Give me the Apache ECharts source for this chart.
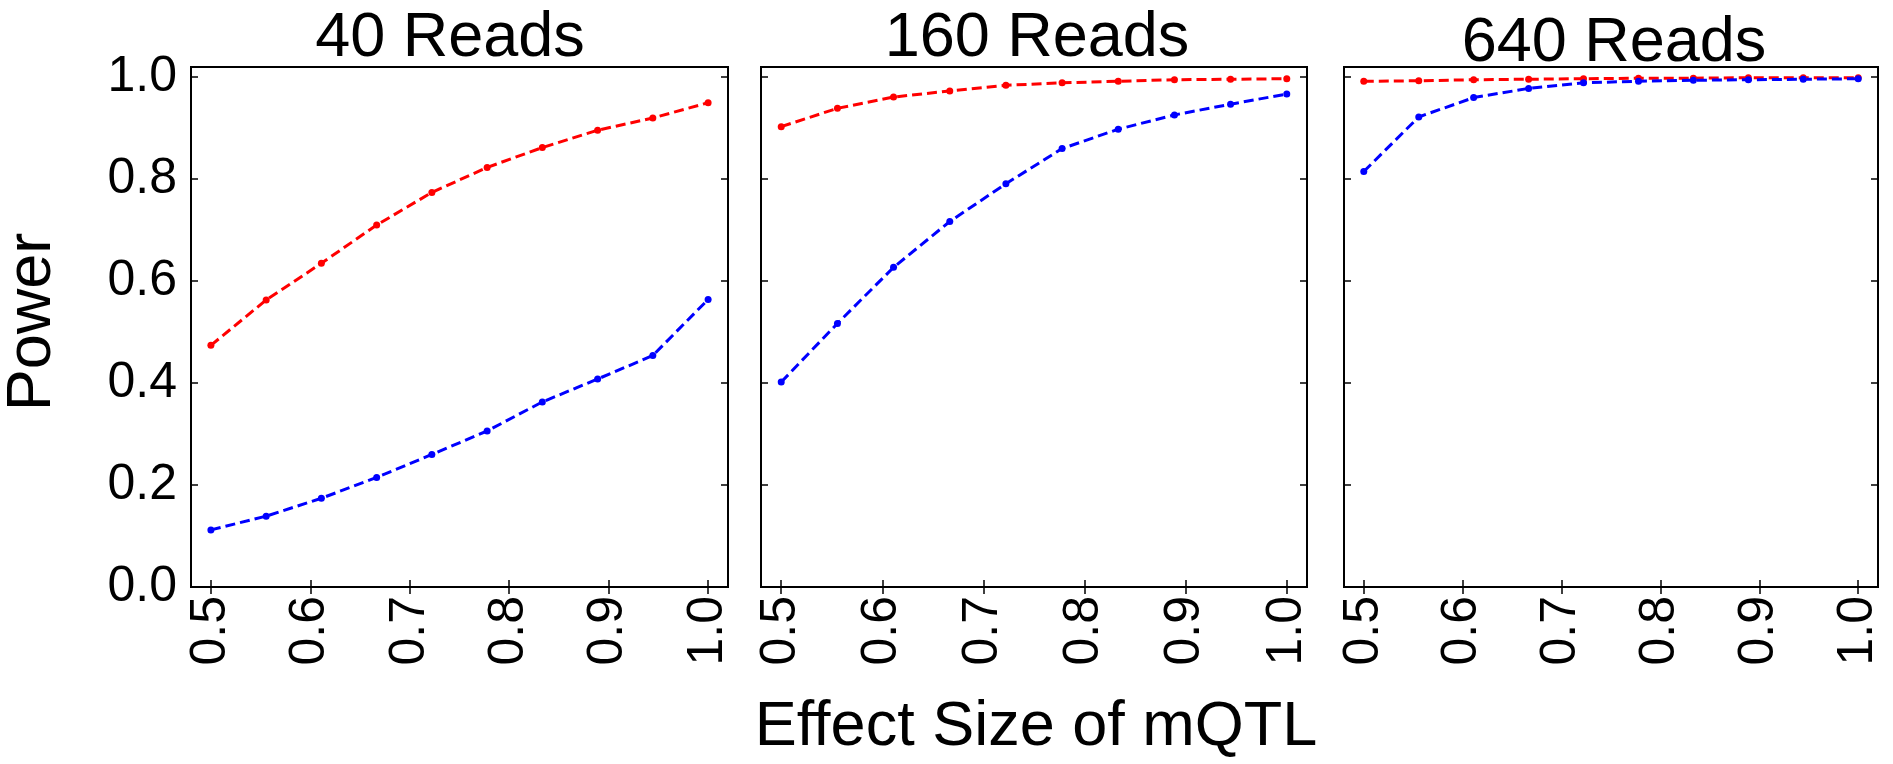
<!DOCTYPE html>
<html><head><meta charset="utf-8">
<script src="https://cdn.jsdelivr.net/npm/echarts@6/dist/echarts.min.js"></script>
<style>html,body{margin:0;padding:0;background:#fff}#c{width:1893px;height:764px}</style>
</head><body><div id="c"></div>
<script>
// ---- data ----
const effectSizes = [0.5, 0.5556, 0.6111, 0.6667, 0.7222, 0.7778, 0.8333, 0.8889, 0.9444, 1.0];
const panelTitles = ['40 Reads', '160 Reads', '640 Reads'];
const red40  = [0.474, 0.563, 0.635, 0.710, 0.774, 0.823, 0.862, 0.896, 0.920, 0.950];
const blue40 = [0.112, 0.139, 0.174, 0.215, 0.260, 0.306, 0.363, 0.408, 0.454, 0.564];
const red160  = [0.903, 0.939, 0.961, 0.973, 0.984, 0.989, 0.992, 0.995, 0.996, 0.997];
const blue160 = [0.402, 0.517, 0.627, 0.717, 0.791, 0.860, 0.898, 0.926, 0.947, 0.967];
const red640  = [0.992, 0.993, 0.995, 0.996, 0.997, 0.998, 0.998, 0.999, 0.999, 0.999];
const blue640 = [0.815, 0.922, 0.960, 0.978, 0.989, 0.992, 0.994, 0.995, 0.996, 0.997];
const xTicks = [0.5, 0.6, 0.7, 0.8, 0.9, 1.0];
const yTicks = [0, 0.2, 0.4, 0.6, 0.8, 1.0];
const xAxisTitle = 'Effect Size of mQTL';
const yAxisTitle = 'Power';

// ---- layout ----
const FONT = '"Liberation Sans", Arial, Helvetica, sans-serif';
const reds = [red40, red160, red640];
const blues = [blue40, blue160, blue640];
const layout = [
  {left: 191, width: 537, tx: 445, ty: 2},
  {left: 761, width: 546, tx: 1032, ty: 2},
  {left: 1344, width: 534, tx: 1609, ty: 7}
];
const TOP = 67, HEIGHT = 520;

const grids = [], xAxes = [], yAxes = [], series = [], titles = [];
const fmt = v => Number(v).toFixed(1);
layout.forEach((p, i) => {
  grids.push({left: p.left, top: TOP, width: p.width, height: HEIGHT, show: true,
    borderColor: '#000', borderWidth: 2, backgroundColor: 'rgba(0,0,0,0)'});
  const tick = {inside: true, length: 7, lineStyle: {color: '#000', width: 1.5}};
  ['bottom', 'top'].forEach(pos => {
    xAxes.push({type: 'value', gridIndex: i, min: 0.48, max: 1.02, position: pos,
      axisLine: {show: false}, splitLine: {show: false},
      axisTick: Object.assign({customValues: xTicks}, tick),
      axisLabel: {show: pos === 'bottom', customValues: xTicks, rotate: 90, fontSize: 50,
        color: '#000', margin: 9, fontFamily: FONT, formatter: fmt}});
  });
  ['left', 'right'].forEach(pos => {
    yAxes.push({type: 'value', gridIndex: i, min: 0, max: 1.02, position: pos,
      axisLine: {show: false}, splitLine: {show: false},
      axisTick: Object.assign({customValues: yTicks}, tick),
      axisLabel: {show: pos === 'left' && i === 0, customValues: yTicks, fontSize: 50,
        color: '#000', margin: 14, fontFamily: FONT, formatter: fmt}});
  });
  [[reds[i], '#ff0000'], [blues[i], '#0000ff']].forEach(([vals, col]) => {
    series.push({type: 'line', xAxisIndex: 2 * i, yAxisIndex: 2 * i,
      data: effectSizes.map((x, k) => [x, vals[k]]),
      symbol: 'circle', symbolSize: 7, showSymbol: true,
      itemStyle: {color: col}, lineStyle: {color: col, width: 3, type: [10, 5]},
      emphasis: {disabled: true}, animation: false});
  });
  titles.push({text: panelTitles[i], left: p.tx, top: p.ty, textAlign: 'center',
    textStyle: {fontSize: 63, fontWeight: 'normal', color: '#000', fontFamily: FONT}});
});

const chart = echarts.init(document.getElementById('c'));
chart.setOption({
  animation: false,
  backgroundColor: '#fff',
  title: titles,
  grid: grids,
  xAxis: xAxes,
  yAxis: yAxes,
  series: series,
  graphic: [
    {type: 'text', x: 33, y: 322, rotation: Math.PI / 2,
      style: {text: yAxisTitle, font: '63px ' + FONT, fill: '#000', textAlign: 'center', textVerticalAlign: 'middle'}},
    {type: 'text', x: 1036, y: 728,
      style: {text: xAxisTitle, font: '63px ' + FONT, fill: '#000', textAlign: 'center', textVerticalAlign: 'middle'}}
  ]
});
</script></body></html>
